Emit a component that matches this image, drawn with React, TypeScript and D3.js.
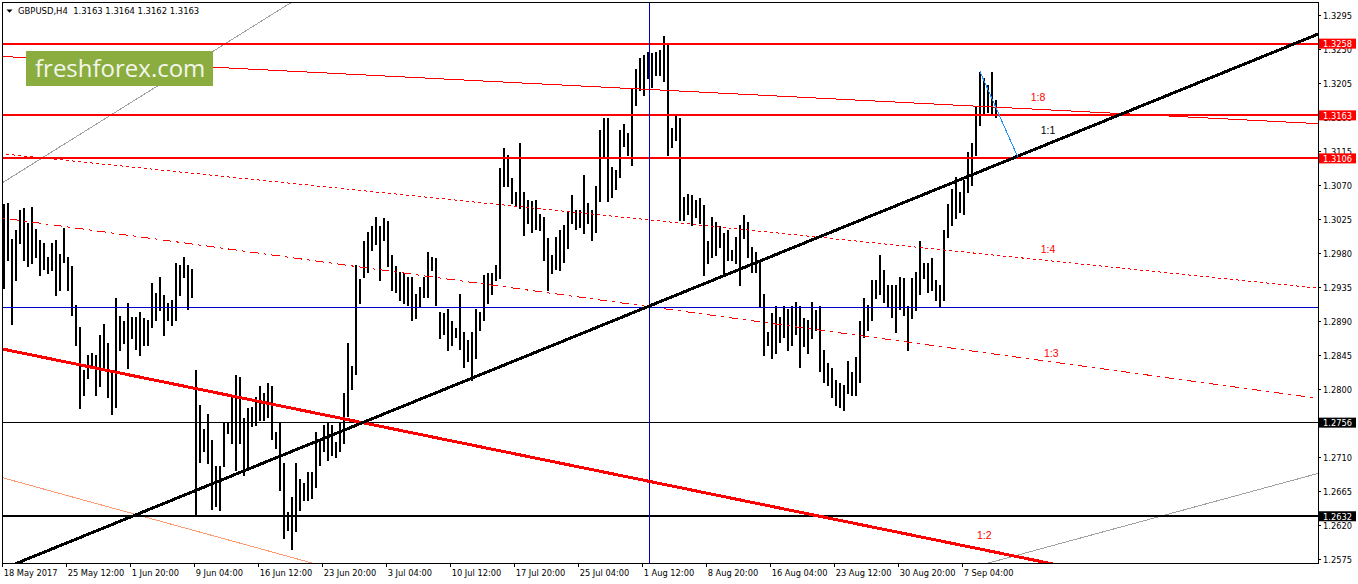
import React from 'react';
import * as d3 from 'd3';

// GBPUSD H4, one entry per pair of H4 bars (8 hours)
const barHigh = [
  1.3046, 1.3047, 1.2999, 1.3011, 1.3037, 1.3040, 1.3020, 1.3042, 1.3012, 1.2998,
  1.2994, 1.2976, 1.2994, 1.2998, 1.2980, 1.3014, 1.2976, 1.2963, 1.2912, 1.2883,
  1.2826, 1.2846, 1.2848, 1.2846, 1.2872, 1.2887, 1.2861, 1.2826, 1.2921, 1.2897,
  1.2890, 1.2914, 1.2896, 1.2896, 1.2903, 1.2894, 1.2892, 1.2941, 1.2928, 1.2949,
  1.2925, 1.2914, 1.2918, 1.2967, 1.2965, 1.2976, 1.2965, 1.2959, 1.2826, 1.2779,
  1.2748, 1.2768, 1.2733, 1.2698, 1.2698, 1.2755, 1.2757, 1.2790, 1.2819, 1.2817,
  1.2762, 1.2775, 1.2777, 1.2790, 1.2805, 1.2795, 1.2808, 1.2804, 1.2744, 1.2757,
  1.2702, 1.2638, 1.2658, 1.2702, 1.2682, 1.2676, 1.2691, 1.2691, 1.2744, 1.2733,
  1.2753, 1.2755, 1.2753, 1.2731, 1.2757, 1.2795, 1.2862, 1.2831, 1.2965, 1.2946,
  1.2996, 1.3008, 1.3016, 1.3029, 1.3016, 1.3027, 1.3023, 1.2978, 1.2963, 1.2955,
  1.2954, 1.2949, 1.2949, 1.2927, 1.2936, 1.2949, 1.2982, 1.2976, 1.2974, 1.2903,
  1.2901, 1.2907, 1.2890, 1.2881, 1.2927, 1.2876, 1.2865, 1.2876, 1.2907, 1.2903,
  1.2951, 1.2954, 1.2954, 1.2965, 1.3093, 1.3120, 1.3110, 1.3080, 1.3062, 1.3126,
  1.3062, 1.3051, 1.3049, 1.3051, 1.3033, 1.3029, 1.3000, 1.2978, 1.3002, 1.3011,
  1.3018, 1.3035, 1.3058, 1.3038, 1.3038, 1.3084, 1.3047, 1.3038, 1.3069, 1.3144,
  1.3159, 1.3159, 1.3095, 1.3091, 1.3144, 1.3152, 1.3139, 1.3199, 1.3225, 1.3239,
  1.3243, 1.3247, 1.3245, 1.3247, 1.3250, 1.3268, 1.3258, 1.3146, 1.3163, 1.3159,
  1.3055, 1.3059, 1.3057, 1.3051, 1.3053, 1.3044, 1.2996, 1.3029, 1.3022, 1.3016,
  1.3007, 1.3011, 1.2985, 1.3002, 1.3018, 1.3031, 1.3022, 1.2989, 1.2982, 1.2971,
  1.2927, 1.2876, 1.2901, 1.2910, 1.2896, 1.2910, 1.2907, 1.2910, 1.2916, 1.2910,
  1.2894, 1.2892, 1.2916, 1.2905, 1.2910, 1.2852, 1.2835, 1.2828, 1.2812, 1.2808,
  1.2806, 1.2837, 1.2823, 1.2843, 1.2890, 1.2921, 1.2912, 1.2945, 1.2945, 1.2978,
  1.2958, 1.2938, 1.2938, 1.2938, 1.2949, 1.2947, 1.2910, 1.2947, 1.2956, 1.2996,
  1.2967, 1.2967, 1.2974, 1.2945, 1.2938, 1.3011, 1.3046, 1.3066, 1.3082, 1.3062,
  1.3077, 1.3115, 1.3126, 1.3175, 1.3221, 1.3212, 1.3203, 1.3221, 1.3183,
];

const barLow = [
  1.2935, 1.2971, 1.2887, 1.2945, 1.2994, 1.2971, 1.2963, 1.2967, 1.2976, 1.2952,
  1.2960, 1.2954, 1.2958, 1.2925, 1.2932, 1.2969, 1.2932, 1.2898, 1.2859, 1.2775,
  1.2793, 1.2815, 1.2828, 1.2793, 1.2804, 1.2826, 1.2790, 1.2768, 1.2777, 1.2852,
  1.2861, 1.2828, 1.2868, 1.2854, 1.2846, 1.2859, 1.2859, 1.2883, 1.2892, 1.2905,
  1.2872, 1.2892, 1.2885, 1.2892, 1.2925, 1.2949, 1.2907, 1.2923, 1.2634, 1.2704,
  1.2718, 1.2702, 1.2642, 1.2645, 1.2640, 1.2698, 1.2742, 1.2729, 1.2693, 1.2729,
  1.2687, 1.2693, 1.2751, 1.2753, 1.2759, 1.2759, 1.2764, 1.2735, 1.2722, 1.2667,
  1.2603, 1.2614, 1.2588, 1.2612, 1.2640, 1.2654, 1.2654, 1.2656, 1.2671, 1.2700,
  1.2718, 1.2707, 1.2713, 1.2711, 1.2718, 1.2729, 1.2765, 1.2800, 1.2821, 1.2914,
  1.2949, 1.2956, 1.2985, 1.2993, 1.2945, 1.2998, 1.2963, 1.2932, 1.2929, 1.2918,
  1.2914, 1.2912, 1.2892, 1.2894, 1.2910, 1.2923, 1.2923, 1.2958, 1.2912, 1.2868,
  1.2874, 1.2852, 1.2859, 1.2870, 1.2854, 1.2830, 1.2837, 1.2812, 1.2841, 1.2879,
  1.2892, 1.2914, 1.2927, 1.2945, 1.2947, 1.3069, 1.3069, 1.3047, 1.3044, 1.3040,
  1.3005, 1.3020, 1.3009, 1.3013, 1.3011, 1.2971, 1.2932, 1.2954, 1.2960, 1.2958,
  1.2969, 1.2987, 1.3020, 1.3013, 1.3015, 1.3007, 1.3020, 1.2998, 1.3009, 1.3049,
  1.3108, 1.3049, 1.3055, 1.3066, 1.3082, 1.3122, 1.3110, 1.3097, 1.3177, 1.3197,
  1.3190, 1.3212, 1.3201, 1.3217, 1.3217, 1.3208, 1.3110, 1.3121, 1.3130, 1.3024,
  1.3024, 1.3033, 1.3018, 1.3029, 1.3020, 1.2952, 1.2967, 1.2976, 1.2978, 1.2989,
  1.2954, 1.2971, 1.2971, 1.2967, 1.2938, 1.3000, 1.2976, 1.2956, 1.2956, 1.2910,
  1.2846, 1.2859, 1.2841, 1.2848, 1.2863, 1.2870, 1.2852, 1.2859, 1.2874, 1.2830,
  1.2857, 1.2848, 1.2868, 1.2879, 1.2825, 1.2810, 1.2806, 1.2790, 1.2779, 1.2777,
  1.2773, 1.2795, 1.2793, 1.2793, 1.2810, 1.2870, 1.2879, 1.2892, 1.2921, 1.2927,
  1.2916, 1.2910, 1.2896, 1.2876, 1.2907, 1.2899, 1.2852, 1.2894, 1.2905, 1.2927,
  1.2947, 1.2929, 1.2932, 1.2918, 1.2910, 1.2918, 1.3002, 1.3018, 1.3027, 1.3035,
  1.3033, 1.3062, 1.3071, 1.3110, 1.3150, 1.3166, 1.3168, 1.3166, 1.3161,
];

// last bar quote shown in the chart title
const symbolName = 'GBPUSD,H4';
const lastQuote = ['1.3163', '1.3164', '1.3162', '1.3163'];

// time axis: one label every 32 H4 bars
const timeLabels = [
  '18 May 2017', '25 May 12:00', '1 Jun 20:00', '9 Jun 04:00', '16 Jun 12:00',
  '23 Jun 20:00', '3 Jul 04:00', '10 Jul 12:00', '17 Jul 20:00', '25 Jul 04:00',
  '1 Aug 12:00', '8 Aug 20:00', '16 Aug 04:00', '23 Aug 12:00', '30 Aug 20:00',
  '7 Sep 04:00',
];
const timeLabelBars = [0, 32, 64, 96, 128, 160, 192, 224, 256, 288, 320, 352, 384, 416, 448, 480];

// price axis
const priceTicks = [
  1.3295, 1.3250, 1.3205, 1.3160, 1.3115, 1.3070, 1.3025, 1.2980, 1.2935,
  1.2890, 1.2845, 1.2800, 1.2755, 1.2710, 1.2665, 1.2620, 1.2575,
];

// horizontal levels
const redLevels = [1.3258, 1.3163, 1.3106];
const blackLevels = [1.2756, 1.2632];
const thickBlackLevel = 1.2632;
const blueLevel = 1.2909;
const separatorBar = 323.3;

// trend / fan lines as [H4 bar index, price] anchors
const fan11 = [[88, 1.2657], [658, 1.3271]];
const fan12 = [[0, 1.28535], [522, 1.25705]];
const fan18 = [[0, 1.3241], [658, 1.3152]];
const fan14 = [[0, 1.3112], [658, 1.2934]];
const fan13 = [[0, 1.3027], [658, 1.2788]];
const salmonLine = [[0, 1.2683], [200, 1.2537]];
const grayLineA = [[0, 1.3074], [150, 1.3322]];
const grayLineB = [[490, 1.2568], [658, 1.2689]];
const projection = [[488.65, 1.3221], [507.5, 1.3108]];

const fanLabels = ['1:8', '1:1', '1:4', '1:3', '1:2'];
const fanLabelAnchors = [[514, 1.31824], [519, 1.31383], [519, 1.29803], [520.65, 1.28425], [487.15, 1.26019]];

const W = 1358;
const H = 584;
const plot = { left: 3, top: 2, right: 1318, bottom: 563 };

const RED = '#ff0000';
const AXIS_FONT = '"DejaVu Sans Condensed", "DejaVu Sans", sans-serif';

const App: React.FC = () => {
  const x = d3.scaleLinear().domain([0, 480]).range([2.7, 962.7]);
  const y = d3.scaleLinear().domain([1.2575, 1.3295]).range([559.3, 15.7]);

  // straight line through two anchors, stretched past the plot edges (clipped later)
  const extend = (pts: number[][]) => {
    const [[h1, p1], [h2, p2]] = pts;
    const slope = (p2 - p1) / (h2 - h1);
    const a: [number, number] = [-40, p1 + slope * (-40 - h1)];
    const b: [number, number] = [720, p1 + slope * (720 - h1)];
    return d3.line<[number, number]>().x(d => x(d[0])).y(d => y(d[1]))([a, b]) || '';
  };
  const segment = (pts: number[][]) =>
    d3.line<number[]>().x(d => x(d[0])).y(d => y(d[1]))(pts) || '';

  const bars = barHigh.map((hi, i) => ({ h: i * 2 + 0.5, hi, lo: barLow[i] }));

  return (
    <svg
      width={W}
      height={H}
      style={{ position: 'absolute', left: 0, top: 0, background: '#fff' }}
      xmlns="http://www.w3.org/2000/svg"
    >
      <defs>
        <clipPath id="plotClip">
          <rect x={plot.left} y={plot.top} width={plot.right - plot.left} height={plot.bottom - plot.top} />
        </clipPath>
      </defs>
      <rect x={0} y={0} width={W} height={H} fill="#fff" />

      <g clipPath="url(#plotClip)" shapeRendering="crispEdges">
        {/* price bars */}
        {bars.map((b, i) => (
          <line key={i} x1={x(b.h)} x2={x(b.h)} y1={y(b.hi)} y2={y(b.lo) + 1} stroke="#000" strokeWidth={2} />
        ))}

        {/* thin fan / helper lines */}
        <path d={extend(grayLineA)} stroke="#a0a0a0" strokeWidth={1} fill="none" />
        <path d={extend(grayLineB)} stroke="#a0a0a0" strokeWidth={1} fill="none" />
        <path d={extend(salmonLine)} stroke="#ff9a70" strokeWidth={1} fill="none" />
        <path d={extend(fan18)} stroke={RED} strokeWidth={1} fill="none" />
        <path d={extend(fan14)} stroke={RED} strokeWidth={1} fill="none" strokeDasharray="3,3" />
        <path d={extend(fan13)} stroke={RED} strokeWidth={1} fill="none" strokeDasharray="9,5,3,5" />

        {/* horizontal levels */}
        <line x1={plot.left} x2={plot.right} y1={y(blueLevel)} y2={y(blueLevel)} stroke="#0000cd" strokeWidth={1} />
        {blackLevels.map(p => (
          <line key={p} x1={plot.left} x2={plot.right} y1={y(p)} y2={y(p)} stroke="#000"
            strokeWidth={p === thickBlackLevel ? 2 : 1} />
        ))}
        {redLevels.map(p => (
          <line key={p} x1={plot.left} x2={plot.right} y1={y(p)} y2={y(p)} stroke={RED} strokeWidth={2} />
        ))}
        <line x1={x(separatorBar)} x2={x(separatorBar)} y1={plot.top} y2={plot.bottom} stroke="#0000cd" strokeWidth={1} />

        {/* main fan lines */}
        <path d={extend(fan12)} stroke={RED} strokeWidth={3} fill="none" />
        <path d={extend(fan11)} stroke="#000" strokeWidth={3} fill="none" />
        <path d={segment(projection)} stroke="#1e90ff" strokeWidth={1} fill="none" />
      </g>

      {/* fan labels */}
      {fanLabels.map((t, i) => (
        <text key={t} x={x(fanLabelAnchors[i][0])} y={y(fanLabelAnchors[i][1])}
          fontFamily='"Liberation Sans", Arial, sans-serif' fontSize={10.5}
          fill={t === '1:1' ? '#000' : RED}>{t}</text>
      ))}

      {/* logo */}
      <rect x={26} y={51} width={187} height={35} fill="#8bad3f" />
      <text x={35} y={77} fontFamily='"Open Sans", sans-serif' fontSize={24} fill="#f3f6ec">freshforex.com</text>

      {/* chart title */}
      <path d="M6.5,9.5 L12.5,9.5 L9.5,12.8 Z" fill="#000" />
      <text x={18} y={13.5} fontFamily={AXIS_FONT} fontSize={9.4} fill="#000" style={{ whiteSpace: 'pre' }}>
        {`${symbolName}  ${lastQuote.join(' ')}`}
      </text>

      {/* frame */}
      <rect x={plot.left - 0.5} y={plot.top + 0.5} width={plot.right - plot.left + 0.5} height={plot.bottom - plot.top}
        fill="none" stroke="#000" strokeWidth={1} shapeRendering="crispEdges" />

      {/* price axis */}
      <g fontFamily={AXIS_FONT} fontSize={9.2} fill="#000">
        {priceTicks.map(p => (
          <g key={p}>
            <line x1={plot.right} x2={plot.right + 3} y1={y(p)} y2={y(p)} stroke="#000" shapeRendering="crispEdges" />
            <text x={plot.right + 5} y={y(p) + 3.3}>{p.toFixed(4)}</text>
          </g>
        ))}
        {redLevels.map(p => (
          <g key={p}>
            <rect x={plot.right + 1} y={y(p) - 5} width={37} height={10} fill={RED} />
            <text x={plot.right + 5} y={y(p) + 3.3} fill="#fff">{p.toFixed(4)}</text>
          </g>
        ))}
        {blackLevels.map(p => (
          <g key={p}>
            <rect x={plot.right + 1} y={y(p) - 5} width={37} height={10} fill="#000" />
            <text x={plot.right + 5} y={y(p) + 3.3} fill="#fff">{p.toFixed(4)}</text>
          </g>
        ))}
      </g>

      {/* time axis */}
      <g fontFamily={AXIS_FONT} fontSize={9.2} fill="#000">
        {timeLabels.map((t, i) => (
          <g key={t}>
            <line x1={x(timeLabelBars[i])} x2={x(timeLabelBars[i])} y1={plot.bottom} y2={plot.bottom + 4}
              stroke="#000" shapeRendering="crispEdges" />
            <text x={x(timeLabelBars[i]) + 1} y={576}>{t}</text>
          </g>
        ))}
      </g>
    </svg>
  );
};

export default App;
